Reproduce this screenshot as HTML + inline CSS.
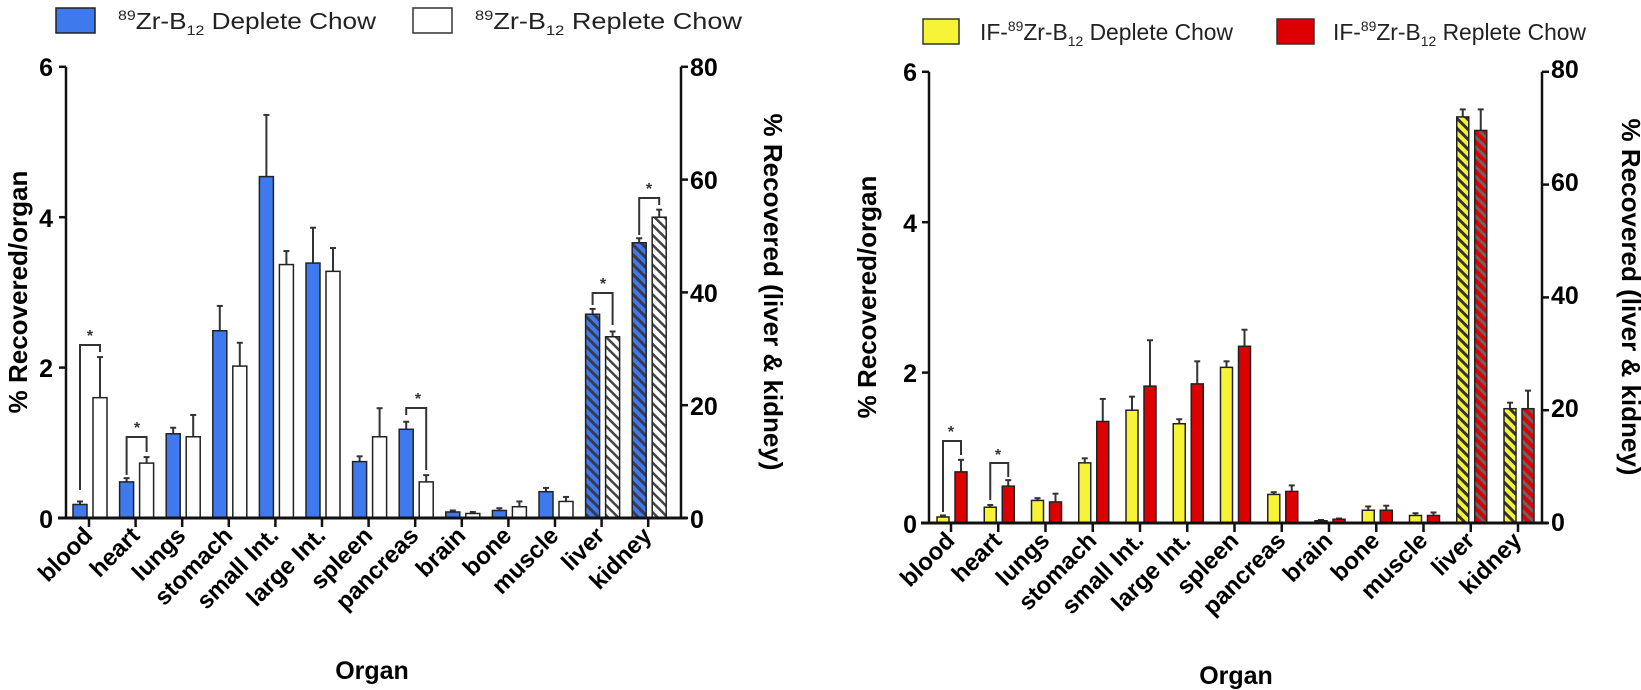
<!DOCTYPE html>
<html><head><meta charset="utf-8"><style>
body{margin:0;background:#fff}
svg{display:block}
text{font-family:"Liberation Sans",Arial,sans-serif}
.t{font-weight:bold;font-size:25px}
.ya{font-weight:bold;font-size:26px}
.xl{font-weight:bold;font-size:24px}
.lg{font-size:23px;fill:#222}
.st{font-weight:bold;font-size:16px;fill:#333}
</style></head><body>
<svg id="s" width="1641" height="690" xmlns="http://www.w3.org/2000/svg">
<defs>
<pattern id="hb" width="7" height="7" patternUnits="userSpaceOnUse" patternTransform="rotate(-45)"><rect width="7" height="7" fill="#3f79ee"/><rect width="3" height="7" fill="#3a3a4a"/></pattern>
<pattern id="hw" width="7" height="7" patternUnits="userSpaceOnUse" patternTransform="rotate(-45)"><rect width="7" height="7" fill="#fff"/><rect width="2.5" height="7" fill="#444"/></pattern>
<pattern id="hy" width="7" height="7" patternUnits="userSpaceOnUse" patternTransform="rotate(-45)"><rect width="7" height="7" fill="#f7f438"/><rect width="3" height="7" fill="#333"/></pattern>
<pattern id="hr" width="7" height="7" patternUnits="userSpaceOnUse" patternTransform="rotate(-45)"><rect width="7" height="7" fill="#dd0000"/><rect width="3" height="7" fill="#666"/></pattern>
</defs>
<!-- legends -->
<rect x="56" y="8" width="39" height="25" fill="#3f79ee" stroke="#222" stroke-width="1.5"/>
<text class="lg" x="118" y="29" textLength="258" lengthAdjust="spacingAndGlyphs"><tspan font-size="14" dy="-9">89</tspan><tspan dy="9">Zr-B</tspan><tspan font-size="14" dy="6">12</tspan><tspan dy="-6"> Deplete Chow</tspan></text>
<rect x="413" y="8" width="39" height="25" fill="#fff" stroke="#333" stroke-width="1.5"/>
<text class="lg" x="475" y="29" textLength="267" lengthAdjust="spacingAndGlyphs"><tspan font-size="14" dy="-9">89</tspan><tspan dy="9">Zr-B</tspan><tspan font-size="14" dy="6">12</tspan><tspan dy="-6"> Replete Chow</tspan></text>
<rect x="923" y="19" width="36" height="25" fill="#f7f438" stroke="#333" stroke-width="1.5"/>
<text class="lg" x="980" y="40" textLength="253" lengthAdjust="spacingAndGlyphs">IF-<tspan font-size="14" dy="-9">89</tspan><tspan dy="9">Zr-B</tspan><tspan font-size="14" dy="6">12</tspan><tspan dy="-6"> Deplete Chow</tspan></text>
<rect x="1277" y="19" width="37" height="25" fill="#dd0000" stroke="#333" stroke-width="1.5"/>
<text class="lg" x="1333" y="40" textLength="253" lengthAdjust="spacingAndGlyphs">IF-<tspan font-size="14" dy="-9">89</tspan><tspan dy="9">Zr-B</tspan><tspan font-size="14" dy="6">12</tspan><tspan dy="-6"> Replete Chow</tspan></text>

<text class="t" x="53" y="76" text-anchor="end">6</text>
<text class="t" x="53" y="227" text-anchor="end">4</text>
<text class="t" x="53" y="377" text-anchor="end">2</text>
<text class="t" x="53" y="528" text-anchor="end">0</text>
<text class="t" x="690" y="76">80</text>
<text class="t" x="690" y="189">60</text>
<text class="t" x="690" y="302">40</text>
<text class="t" x="690" y="415">20</text>
<text class="t" x="690" y="528">0</text>
<text class="ya" transform="translate(27,292) rotate(-90)" text-anchor="middle">% Recovered/organ</text>
<text class="ya" transform="translate(764,292) rotate(90)" text-anchor="middle">% Recovered (liver &amp; kidney)</text>
<text class="t" x="372" y="679" text-anchor="middle" font-size="28">Organ</text>

<text class="t" x="917" y="81" text-anchor="end">6</text>
<text class="t" x="917" y="232" text-anchor="end">4</text>
<text class="t" x="917" y="382" text-anchor="end">2</text>
<text class="t" x="917" y="533" text-anchor="end">0</text>
<text class="t" x="1551" y="78">80</text>
<text class="t" x="1551" y="191">60</text>
<text class="t" x="1551" y="304">40</text>
<text class="t" x="1551" y="417">20</text>
<text class="t" x="1551" y="531">0</text>
<text class="ya" transform="translate(876,297) rotate(-90)" text-anchor="middle">% Recovered/organ</text>
<text class="ya" transform="translate(1622,297) rotate(90)" text-anchor="middle">% Recovered (liver &amp; kidney)</text>
<text class="t" x="1236" y="684" text-anchor="middle" font-size="28">Organ</text>

<g class="xl" text-anchor="end">
<text class="xl" transform="translate(94,537) rotate(-45)">blood</text>
<text class="xl" transform="translate(141,537) rotate(-45)">heart</text>
<text class="xl" transform="translate(187,537) rotate(-45)">lungs</text>
<text class="xl" transform="translate(234,537) rotate(-45)">stomach</text>
<text class="xl" transform="translate(280,537) rotate(-45)">small Int.</text>
<text class="xl" transform="translate(327,537) rotate(-45)">large Int.</text>
<text class="xl" transform="translate(374,537) rotate(-45)">spleen</text>
<text class="xl" transform="translate(420,537) rotate(-45)">pancreas</text>
<text class="xl" transform="translate(467,537) rotate(-45)">brain</text>
<text class="xl" transform="translate(513,537) rotate(-45)">bone</text>
<text class="xl" transform="translate(560,537) rotate(-45)">muscle</text>
<text class="xl" transform="translate(606,537) rotate(-45)">liver</text>
<text class="xl" transform="translate(653,537) rotate(-45)">kidney</text>
<text class="xl" transform="translate(956,542) rotate(-45)">blood</text>
<text class="xl" transform="translate(1003,542) rotate(-45)">heart</text>
<text class="xl" transform="translate(1051,542) rotate(-45)">lungs</text>
<text class="xl" transform="translate(1098,542) rotate(-45)">stomach</text>
<text class="xl" transform="translate(1145,542) rotate(-45)">small Int.</text>
<text class="xl" transform="translate(1192,542) rotate(-45)">large Int.</text>
<text class="xl" transform="translate(1240,542) rotate(-45)">spleen</text>
<text class="xl" transform="translate(1287,542) rotate(-45)">pancreas</text>
<text class="xl" transform="translate(1334,542) rotate(-45)">brain</text>
<text class="xl" transform="translate(1381,542) rotate(-45)">bone</text>
<text class="xl" transform="translate(1429,542) rotate(-45)">muscle</text>
<text class="xl" transform="translate(1476,542) rotate(-45)">liver</text>
<text class="xl" transform="translate(1523,542) rotate(-45)">kidney</text>
</g>
<text class="st" x="90" y="341" text-anchor="middle">*</text>
<text class="st" x="137" y="433" text-anchor="middle">*</text>
<text class="st" x="418" y="404" text-anchor="middle">*</text>
<text class="st" x="603" y="289" text-anchor="middle">*</text>
<text class="st" x="649" y="194" text-anchor="middle">*</text>
<text class="st" x="951" y="437" text-anchor="middle">*</text>
<text class="st" x="998" y="460" text-anchor="middle">*</text>
<g id="g"></g>
</svg>
<script>
var g=document.getElementById('g'),h='';
function L(x1,y1,x2,y2,w,c){h+='<line x1="'+x1+'" y1="'+y1+'" x2="'+x2+'" y2="'+y2+'" stroke="'+(c||'#111')+'" stroke-width="'+(w||2.5)+'"/>';}
function chart(o){
 var y=function(v){return o.y0-v*o.k};
 for(var i=0;i<13;i++){
  var c=o.c0+o.dc*i;
  for(var j=0;j<2;j++){
   var d=o.d[i][j],bx=c+o.bx[j],bw=o.bw,top=y(d[0]);
   var f=(i>=11)?o.hf[j]:o.f[j];
   L(bx+bw/2,top,bx+bw/2,y(d[1]),2,'#333');L(bx+bw/2-3,y(d[1]),bx+bw/2+3,y(d[1]),2,'#333');
   h+='<rect x="'+bx+'" y="'+top+'" width="'+bw+'" height="'+(o.y0-top)+'" fill="'+f+'" stroke="#222" stroke-width="1.5"/>';
  }
  L(c,o.y0,c,o.y0+9,2.5);
 }
 L(o.ax,o.y0-o.k*6,o.ax,o.y0+1);L(o.rx,o.y0-o.k*6,o.rx,o.y0+1);
 L(o.ax-8,o.y0,o.rx+6,o.y0,3);
 for(var t=0;t<=6;t+=2){L(o.ax-7,y(t),o.ax,y(t));}
 for(t=0;t<=4;t++){var yy=o.y0-t*o.k*1.5;L(o.rx,yy,o.rx+7,yy);}
 o.br.forEach(function(b){var c=o.c0+o.dc*b[0],x1=c+o.bx[0]+o.bw/2,x2=c+o.bx[1]+o.bw/2;
  h+='<polyline points="'+x1+','+b[2]+' '+x1+','+b[1]+' '+x2+','+b[1]+' '+x2+','+b[3]+'" fill="none" stroke="#333" stroke-width="2"/>';});
}
chart({y0:518,k:75.2,c0:89,dc:46.6,ax:66,rx:681,bx:[-16,4],bw:14,f:['#3f79ee','#fff'],hf:['url(#hb)','url(#hw)'],
 d:[[[0.18,0.22],[1.6,2.14]],[[0.48,0.53],[0.73,0.81]],[[1.12,1.2],[1.08,1.37]],[[2.49,2.82],[2.02,2.33]],[[4.54,5.36],[3.37,3.55]],[[3.39,3.86],[3.28,3.59]],[[0.75,0.82],[1.08,1.46]],[[1.18,1.28],[0.48,0.57]],[[0.08,0.1],[0.06,0.08]],[[0.1,0.13],[0.15,0.22]],[[0.35,0.4],[0.22,0.28]],[[2.71,2.78],[2.41,2.48]],[[3.66,3.72],[4.0,4.1]]],
 br:[[0,345,490,352],[1,437,475,452],[7,408,415,470],[11,293,305,325],[12,198,235,205]]});
chart({y0:523,k:75.2,c0:951,dc:47.25,ax:929,rx:1542,bx:[-14,4],bw:12,f:['#f7f438','#dd0000'],hf:['url(#hy)','url(#hr)'],
 d:[[[0.08,0.1],[0.68,0.84]],[[0.21,0.24],[0.49,0.57]],[[0.3,0.33],[0.28,0.39]],[[0.8,0.86],[1.35,1.65]],[[1.5,1.68],[1.82,2.43]],[[1.32,1.38],[1.85,2.15]],[[2.07,2.15],[2.35,2.57]],[[0.38,0.41],[0.42,0.5]],[[0.03,0.04],[0.05,0.06]],[[0.17,0.22],[0.17,0.23]],[[0.1,0.13],[0.1,0.14]],[[5.4,5.5],[5.22,5.5]],[[1.52,1.6],[1.52,1.76]]],
 br:[[0,441,512,455],[1,463,500,477]]});
g.innerHTML=h;
</script>
</body></html>
